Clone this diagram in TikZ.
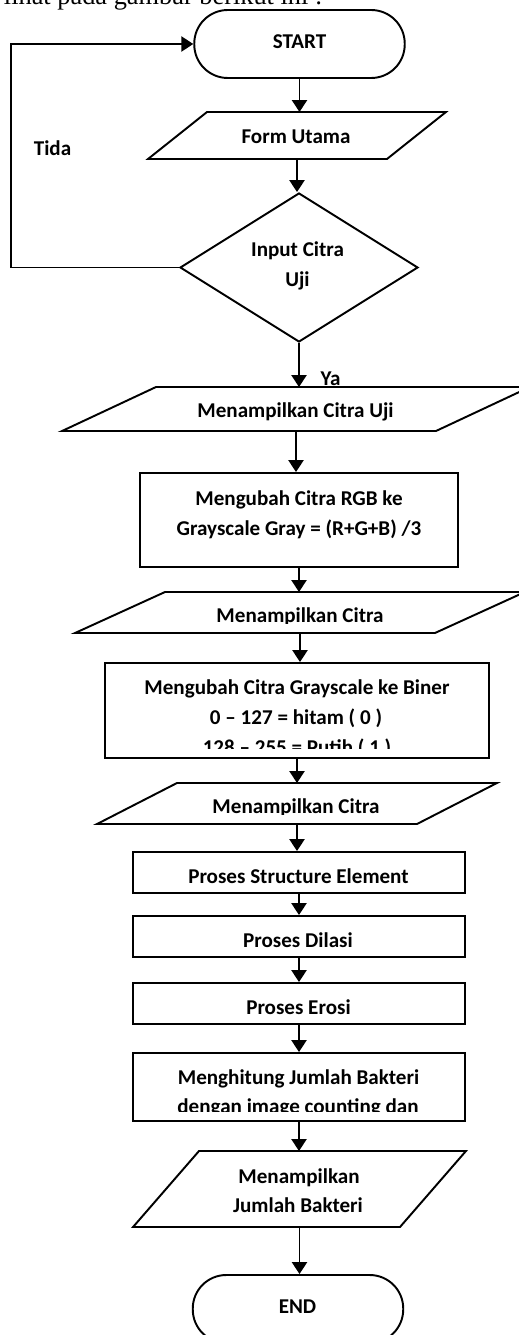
\documentclass[tikz,border=0pt]{standalone}
\usepackage{fontspec}
\setmainfont{Carlito}
\newfontfamily\bodyserif{Liberation Serif}
\usetikzlibrary{arrows.meta,shapes.geometric}

% outline of a slanted input/output box around node #1; #2 is the horizontal slant in units of 0.02cm
\newcommand{\slantoutline}[2]{%
  \draw[line width=1.1pt, line join=miter]
    ([xshift=#2*0.01cm]#1.north west) -- ([xshift=#2*0.01cm]#1.north east)
    -- ([xshift=-#2*0.01cm]#1.south east) -- ([xshift=-#2*0.01cm]#1.south west) -- cycle;}

\begin{document}
\begin{tikzpicture}[
  x=0.02cm, y=-0.02cm,
  line width=1.1pt,
  shapeline/.style={draw=black, line width=1.1pt, inner sep=0pt},
  terminal/.style={shapeline, rectangle, rounded corners=0.67cm,
    minimum width=4.21cm, minimum height=1.36cm},
  procbox/.style={shapeline, rectangle},
  iobox/.style={rectangle, inner sep=0pt, outer sep=0pt},
  decision/.style={shapeline, diamond, minimum width=4.76cm, minimum height=2.98cm},
  lbl/.style={inner sep=0pt, anchor=base, font=\bfseries\fontsize{12}{17}\selectfont},
  flow/.style={-{Triangle[length=6.8pt,width=8.6pt]}, line width=1.1pt}
]
\useasboundingbox (0,0) rectangle (519,1335);
\clip (0,0) rectangle (519,1335);

% running text above the chart
\node[inner sep=0pt, anchor=base west, font=\bodyserif\fontsize{15}{18}\selectfont]
  (lead) at (3,5) {lihat pada gambar berikut ini :};

% ---- shapes ----
\node[terminal] (start) at (299.5,44) {};
\node[iobox, minimum width=4.78cm, minimum height=0.94cm] (form) at (297,135.5) {};
\slantoutline{form}{59}
\node[decision] (input) at (299,267.5) {};
\node[iobox, minimum width=7.48cm, minimum height=0.88cm] (showuji) at (296,409) {};
\slantoutline{showuji}{94}
\node[procbox, minimum width=6.36cm, minimum height=1.88cm] (gray) at (299,520) {};
\node[iobox, minimum width=7.2cm, minimum height=0.82cm] (showgray) at (300,612.5) {};
\slantoutline{showgray}{90}
\node[procbox, minimum width=7.68cm, minimum height=1.90cm] (biner) at (297,710.5) {};
\node[iobox, minimum width=6.4cm, minimum height=0.82cm] (showbiner) at (297,803.5) {};
\slantoutline{showbiner}{80}
\node[procbox, minimum width=6.64cm, minimum height=0.82cm] (struct) at (299,872.5) {};
\node[procbox, minimum width=6.64cm, minimum height=0.82cm] (dilasi) at (299,936.5) {};
\node[procbox, minimum width=6.64cm, minimum height=0.82cm] (erosi) at (299,1003.5) {};
\node[procbox, minimum width=6.64cm, minimum height=1.36cm] (hitung) at (299,1087) {};
\node[iobox, minimum width=5.34cm, minimum height=1.52cm] (showjml) at (299.5,1189) {};
\slantoutline{showjml}{66}
\node[terminal] (end) at (298,1309) {};

% ---- texts ----
\node[lbl] (tstart) at (299.5,49) {START};
\node[lbl] (tform) at (296,143) {Form Utama};
\node[lbl] (tinput1) at (297.5,256) {Input Citra};
\node[lbl] (tinput2) at (297.5,286) {Uji};
\node[lbl] (tshowuji) at (295.5,417) {Menampilkan Citra Uji};
\node[lbl] (tgray1) at (299,505) {Mengubah Citra RGB ke};
\node[lbl] (tgray2) at (299,535) {Grayscale Gray = (R+G+B) /3};
\begin{scope}
  \clip (0,0) rectangle (519,623);
  \node[lbl] (tshowgray) at (300,622) {Menampilkan Citra};
\end{scope}
\node[lbl] (tbiner1) at (297,694) {Mengubah Citra Grayscale ke Biner};
\node[lbl] (tbiner2) at (296,724) {0 – 127 = hitam ( 0 )};
\begin{scope}
  \clip (0,0) rectangle (519,748);
  \node[lbl] (tbiner3) at (297,754) {128 – 255 = Putih ( 1 )};
\end{scope}
\begin{scope}
  \clip (0,0) rectangle (519,814);
  \node[lbl] (tshowbiner) at (296,813) {Menampilkan Citra};
\end{scope}
\node[lbl] (tstruct) at (298.5,883) {Proses Structure Element};
\node[lbl] (tdilasi) at (298,947) {Proses Dilasi};
\node[lbl] (terosi) at (298.5,1014) {Proses Erosi};
\node[lbl] (thitung1) at (298.5,1084) {Menghitung Jumlah Bakteri};
\begin{scope}
  \clip (0,0) rectangle (519,1111);
  \node[lbl] (thitung2) at (298,1113) {dengan image counting dan};
\end{scope}
\node[lbl] (tshowjml1) at (299,1183) {Menampilkan};
\node[lbl] (tshowjml2) at (298,1212) {Jumlah Bakteri};
\node[lbl] (tend) at (297.5,1313) {END};

\node[lbl] (tida) at (52.5,155) {Tida};
\node[lbl] (ya) at (330.5,385) {Ya};

% ---- connectors ----
\draw[flow] (start.south) -- (start.south |- form.north);
\draw[flow] (form.south) -- (form.south |- input.north);
\draw[flow] (input.south) -- (input.south |- showuji.north);
\draw[flow] (showuji.south) -- (showuji.south |- gray.north);
\draw[flow] (gray.south) -- (gray.south |- showgray.north);
\draw[flow] (showgray.south) -- (showgray.south |- biner.north);
\draw[flow] (biner.south) -- (biner.south |- showbiner.north);
\draw[flow] (showbiner.south) -- (showbiner.south |- struct.north);
\draw[flow] (struct.south) -- (struct.south |- dilasi.north);
\draw[flow] (dilasi.south) -- (dilasi.south |- erosi.north);
\draw[flow] (erosi.south) -- (erosi.south |- hitung.north);
\draw[flow] (hitung.south) -- (hitung.south |- showjml.north);
\draw[flow] (showjml.south) -- (showjml.south |- end.north);

% "Tida" branch back to START
\coordinate (loopcorner) at (11,267.5);
\draw[flow] (input.west) -- (loopcorner) |- (start.west);
\end{tikzpicture}
\end{document}
